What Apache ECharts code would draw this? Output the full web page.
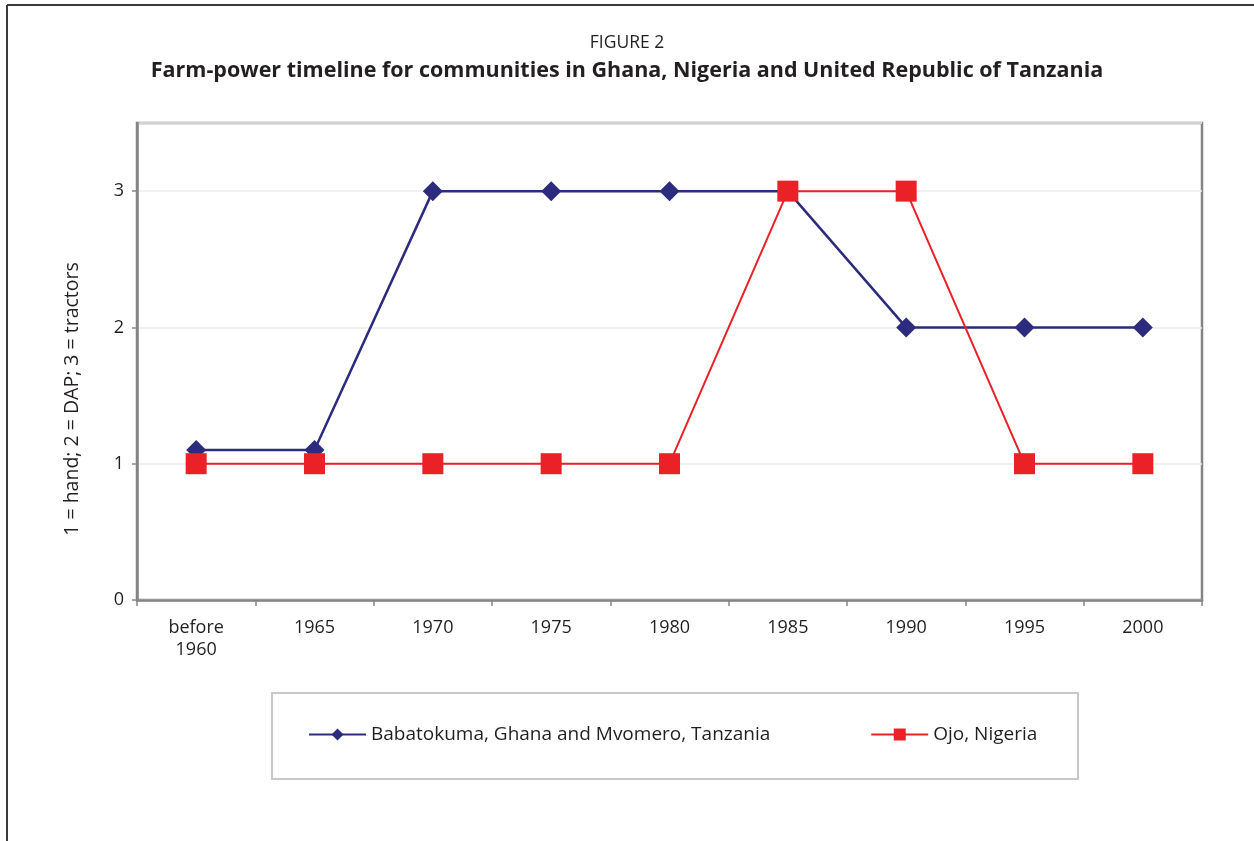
<!DOCTYPE html>
<html>
<head>
<meta charset="utf-8">
<title>Farm-power timeline</title>
<script src="https://cdn.jsdelivr.net/npm/echarts@6/dist/echarts.min.js"></script>
<style>
  html, body { margin: 0; padding: 0; background: #fff; }
  #chart { width: 1254px; height: 841px; }
</style>
</head>
<body>
<div id="chart"></div>
<script>
// Periods on the horizontal axis
const periods = ['before\n1960', '1965', '1970', '1975', '1980', '1985', '1990', '1995', '2000'];
// Farm-power level: 1 = hand, 2 = draught animal power, 3 = tractors
const ghanaTanzania = [1.1, 1.1, 3, 3, 3, 3, 2, 2, 2];
const ojoNigeria = [1, 1, 1, 1, 1, 3, 3, 1, 1];
const seriesNames = ['Babatokuma, Ghana and Mvomero, Tanzania', 'Ojo, Nigeria'];
const yTicks = [0, 1, 2, 3];

const FONT = '"Open Sans", "Noto Sans", sans-serif';
const TEXT = '#231f20';
const AXIS = '#858585';
const BLUE = '#2d2b7d';
const RED = '#ea2127';

const chart = echarts.init(document.getElementById('chart'), null, { renderer: 'canvas' });

chart.setOption({
  backgroundColor: '#ffffff',
  animation: false,
  title: {
    text: 'FIGURE 2',
    subtext: 'Farm-power timeline for communities in Ghana, Nigeria and United Republic of Tanzania',
    left: 'center',
    top: 29,
    itemGap: 8,
    textStyle: { fontFamily: FONT, fontWeight: 'normal', fontSize: 17.5, color: TEXT },
    subtextStyle: { fontFamily: FONT, fontWeight: 'bold', fontSize: 21.5, color: TEXT }
  },
  grid: {
    left: 137, right: 52, top: 123, bottom: 241,
    show: true,
    borderColor: AXIS,
    borderWidth: 2.5,
    backgroundColor: 'transparent'
  },
  legend: {
    data: seriesNames,
    left: 303,
    top: 720,
    itemWidth: 57,
    itemHeight: 15,
    itemGap: 100,
    textStyle: { fontFamily: FONT, fontSize: 19, color: TEXT }
  },
  xAxis: {
    type: 'category',
    data: periods,
    boundaryGap: true,
    axisLine: { show: true, lineStyle: { color: AXIS, width: 2.5 } },
    axisTick: { show: true, inside: false, length: 6, lineStyle: { color: AXIS, width: 1.5 } },
    axisLabel: { fontFamily: FONT, fontSize: 18, color: TEXT, margin: 17, lineHeight: 22 },
    splitLine: { show: false }
  },
  yAxis: {
    type: 'value',
    min: 0,
    max: 3.5,
    interval: 1,
    axisLine: { show: true, lineStyle: { color: AXIS, width: 2.5 } },
    axisTick: { show: true, length: 5, lineStyle: { color: AXIS, width: 1.5 } },
    axisLabel: {
      fontFamily: FONT, fontSize: 18, color: TEXT, margin: 13,
      showMaxLabel: false,
      formatter: v => (yTicks.indexOf(v) >= 0 ? String(v) : '')
    },
    splitLine: { show: true, lineStyle: { color: '#ececec', width: 1.5 } }
  },
  series: [
    {
      name: seriesNames[0],
      type: 'line',
      data: ghanaTanzania,
      symbol: 'diamond',
      symbolSize: 20,
      lineStyle: { color: BLUE, width: 2.5 },
      itemStyle: { color: BLUE },
      z: 2
    },
    {
      name: seriesNames[1],
      type: 'line',
      data: ojoNigeria,
      symbol: 'rect',
      symbolSize: 21,
      lineStyle: { color: RED, width: 2 },
      itemStyle: { color: RED },
      z: 3
    }
  ],
  graphic: [
    // page frame: top and left rules
    { type: 'line', shape: { x1: 7, y1: 5, x2: 1254, y2: 5 }, style: { stroke: '#3a3a3a', lineWidth: 2 } },
    { type: 'line', shape: { x1: 7, y1: 5, x2: 7, y2: 841 }, style: { stroke: '#3a3a3a', lineWidth: 2 } },
    // legend box
    { type: 'rect', shape: { x: 272, y: 693, width: 806, height: 86 }, style: { fill: 'none', stroke: '#c9c9c9', lineWidth: 2 } },
    // vertical axis title
    {
      type: 'text',
      x: 72, y: 399,
      rotation: Math.PI / 2,
      style: {
        text: '1 = hand; 2 = DAP; 3 = tractors',
        fontFamily: FONT, fontSize: 19.5, fill: TEXT,
        align: 'center', verticalAlign: 'middle'
      }
    }
  ]
});
</script>
</body>
</html>
